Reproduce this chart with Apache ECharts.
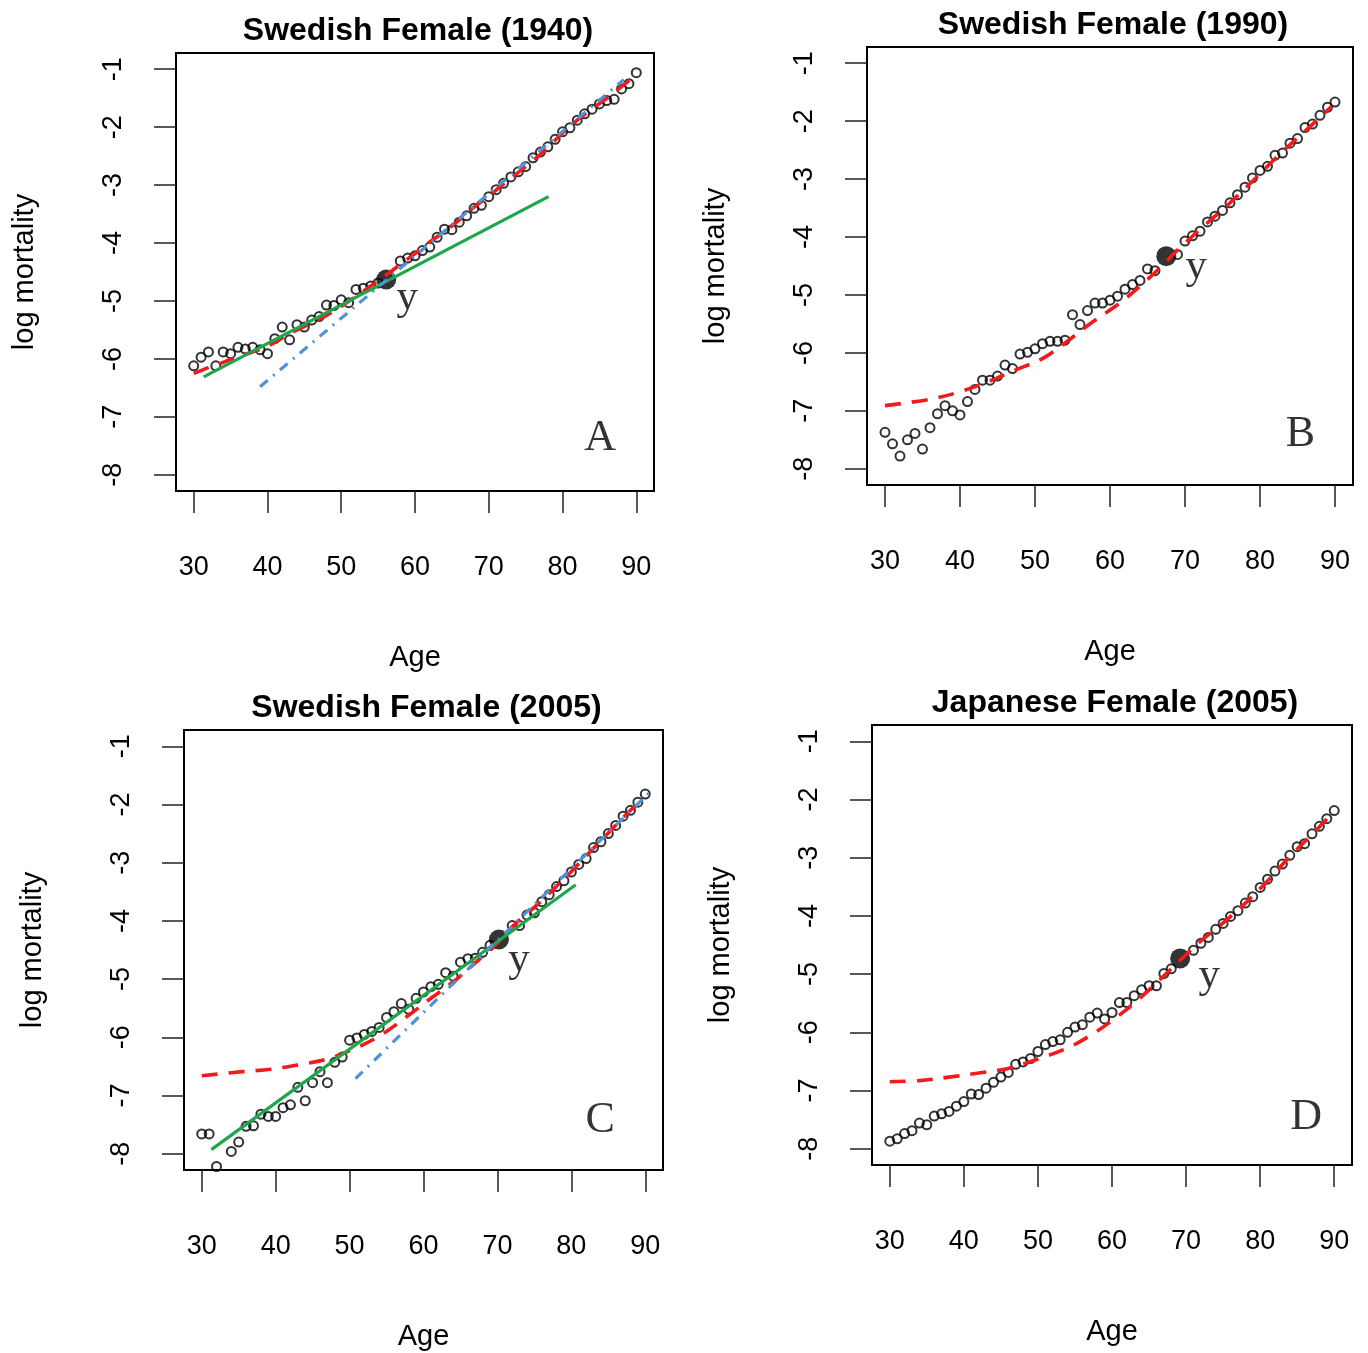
<!DOCTYPE html>
<html>
<head>
<meta charset="utf-8">
<script src="https://cdn.jsdelivr.net/npm/echarts@6/dist/echarts.min.js"></script>
<style>
html,body{margin:0;padding:0;background:#fff;}
#c{width:1368px;height:1353px;}
</style>
</head>
<body>
<div id="c"></div>
<script>
// ---------- DATA ----------
const ages = [30,31,32,33,34,35,36,37,38,39,40,41,42,43,44,45,46,47,48,49,50,51,52,53,54,55,56,57,58,59,60,61,62,63,64,65,66,67,68,69,70,71,72,73,74,75,76,77,78,79,80,81,82,83,84,85,86,87,88,89,90];
const xTicks = [30,40,50,60,70,80,90];
const yTicks = [-8,-7,-6,-5,-4,-3,-2,-1];
const titles = ["Swedish Female (1940)","Swedish Female (1990)","Swedish Female (2005)","Japanese Female (2005)"];
const letters = ["A","B","C","D"];

// observed log mortality, panel A (Swedish female 1940)
const obsA = [-6.12,-5.97,-5.88,-6.12,-5.88,-5.91,-5.80,-5.83,-5.80,-5.84,-5.91,-5.65,-5.45,-5.67,-5.41,-5.45,-5.33,-5.27,-5.07,-5.08,-4.98,-5.03,-4.80,-4.78,-4.74,-4.69,null,null,-4.31,-4.26,-4.22,-4.13,-4.07,-3.90,-3.76,-3.77,-3.64,-3.53,-3.40,-3.35,-3.20,-3.08,-2.97,-2.86,-2.77,-2.68,-2.53,-2.43,-2.34,-2.21,-2.08,-2.01,-1.88,-1.77,-1.69,-1.60,-1.54,-1.52,-1.34,-1.25,-1.06];
// panel B (Swedish female 1990)
const obsB = [-7.37,-7.57,-7.78,-7.50,-7.39,-7.66,-7.29,-7.05,-6.91,-7.00,-7.07,-6.84,-6.63,-6.47,-6.47,-6.40,-6.21,-6.27,-6.02,-5.99,-5.93,-5.84,-5.80,-5.80,-5.78,-5.34,-5.51,-5.27,-5.14,-5.14,-5.09,-5.02,-4.90,-4.82,-4.75,-4.55,-4.58,null,null,-4.30,-4.07,-3.98,-3.90,-3.74,-3.64,-3.54,-3.41,-3.27,-3.14,-2.98,-2.85,-2.78,-2.59,-2.55,-2.38,-2.30,-2.11,-2.05,-1.90,-1.76,-1.67];
// panel C (Swedish female 2005)
const obsC = [-7.66,-7.66,-8.22,null,-7.96,-7.80,-7.53,-7.52,-7.32,-7.36,-7.36,-7.21,-7.16,-6.86,-7.09,-6.78,-6.59,-6.78,-6.43,-6.34,-6.05,-6.01,-5.95,-5.90,-5.83,-5.66,-5.56,-5.42,-5.52,-5.33,-5.22,-5.13,-5.09,-4.89,-4.95,-4.71,-4.65,-4.64,-4.54,-4.42,null,null,-4.08,-4.08,-3.90,-3.86,-3.67,-3.55,-3.41,-3.31,-3.16,-3.03,-2.93,-2.74,-2.64,-2.50,-2.36,-2.20,-2.10,-1.96,-1.82];
// panel D (Japanese female 2005)
const obsD = [-7.87,-7.83,-7.74,-7.69,-7.56,-7.59,-7.44,-7.40,-7.36,-7.27,-7.19,-7.06,-7.07,-6.96,-6.86,-6.77,-6.69,-6.55,-6.51,-6.45,-6.33,-6.21,-6.16,-6.13,-6.00,-5.91,-5.87,-5.74,-5.67,-5.77,-5.66,-5.49,-5.49,-5.37,-5.27,-5.20,-5.20,-4.99,-4.91,null,null,-4.59,-4.47,-4.37,-4.23,-4.13,-4.01,-3.91,-3.78,-3.67,-3.51,-3.37,-3.23,-3.11,-2.96,-2.81,-2.76,-2.59,-2.46,-2.33,-2.19];

// fitted curves (red dashed)
const redAgeA = [30,32,34,36,38,40,42,44,46,48,50,52,54,56,58,60,62,64,66,68,70,72,74,76,78,80,82,84,86,88,89.5];
const redValA = [-6.25,-6.15,-6.06,-5.96,-5.88,-5.78,-5.64,-5.50,-5.38,-5.25,-5.09,-4.92,-4.74,-4.56,-4.37,-4.18,-3.98,-3.80,-3.60,-3.38,-3.19,-2.98,-2.78,-2.58,-2.35,-2.10,-1.88,-1.68,-1.50,-1.30,-1.15];
const redAgeB = [30,36,39.5,43.5,47.1,51.1,54.4,57.3,61.3,63.9,66.6,69.2,72.6,75.5,78.1,82.8,85.7,89.6];
const redValB = [-6.91,-6.80,-6.69,-6.51,-6.31,-6.09,-5.79,-5.50,-5.14,-4.86,-4.54,-4.20,-3.80,-3.47,-3.15,-2.55,-2.21,-1.74];
const redAgeC = [30,35.5,39.3,43.2,46.8,50.4,54,58,61,64,67,70,72,76,80,84,88,89.5];
const redValC = [-6.66,-6.59,-6.55,-6.47,-6.38,-6.21,-5.98,-5.62,-5.33,-5.05,-4.72,-4.38,-4.10,-3.65,-3.15,-2.62,-2.10,-1.93];
const redAgeD = [30,34,38,42,46,50,54,57,60,63,66,69.3,72,75,78,81,84,87,89.5];
const redValD = [-6.85,-6.83,-6.77,-6.70,-6.62,-6.46,-6.27,-6.06,-5.80,-5.50,-5.15,-4.75,-4.43,-4.12,-3.78,-3.40,-2.98,-2.60,-2.27];

// straight fits (green solid, blue dash-dot): [age, value] end points
const greenA = [[31.35,-6.31],[78.1,-3.20]];
const blueA  = [[39.0,-6.48],[88.3,-1.18]];
const greenC = [[31.3,-7.93],[80.6,-3.38]];
const blueC  = [[50.8,-6.71],[91.1,-1.73]];

// highlighted point y: [age, value]
const yPoints = [[56.1,-4.63],[67.5,-4.33],[70.2,-4.32],[69.2,-4.73]];
// panel letter anchor [age, value]
const letterAt = [[85.1,-7.37],[85.4,-7.40],[83.9,-7.43],[86.2,-7.46]];

// ---------- LAYOUT / STYLE ----------
const grids = [
  {left:176, top:53,  width:478, height:438},
  {left:867, top:47,  width:486, height:438},
  {left:184, top:730, width:479, height:440},
  {left:872, top:725, width:480, height:440}
];
const titleTops = [10, 4, 687, 682];
const yLabelOffsets = [[21,18],[30,11],[20,20],[29,17]];

const SANS = "'Liberation Sans', Arial, sans-serif";
const SERIF = "'Liberation Serif', 'Times New Roman', serif";
const RED = '#f21a1a', GREEN = '#1ea64b', BLUE = '#4e93da';

function pairs(xs, ys){
  const out = [];
  for (let i=0;i<xs.length;i++){ if (ys[i] !== null) out.push([xs[i], ys[i]]); }
  return out;
}

const obs = [obsA, obsB, obsC, obsD];
const reds = [[redAgeA,redValA],[redAgeB,redValB],[redAgeC,redValC],[redAgeD,redValD]];
const greens = [greenA, null, greenC, null];
const blues = [blueA, null, blueC, null];

const option = {
  animation: false,
  backgroundColor: '#fff',
  title: [], grid: [], xAxis: [], yAxis: [], series: []
};

for (let p=0;p<4;p++){
  const g = grids[p];
  option.grid.push({left:g.left, top:g.top, width:g.width, height:g.height, show:true,
    borderColor:'#000', borderWidth:2, backgroundColor:'rgba(0,0,0,0)', containLabel:false});
  option.title.push({text:titles[p], left:g.left + g.width/2 - 2, top:titleTops[p], textAlign:'center',
    textStyle:{fontFamily:SANS, fontSize:32, fontWeight:'bold', color:'#000'}});
  option.xAxis.push({gridIndex:p, type:'value', min:27.6, max:92.4,
    axisLine:{show:false, onZero:false}, splitLine:{show:false},
    axisTick:{show:true, length:22, customValues:xTicks, lineStyle:{color:'#222', width:1.5}},
    axisLabel:{show:true, customValues:xTicks, fontFamily:SANS, fontSize:27, color:'#000', margin:63},
    name:'Age', nameLocation:'middle', nameGap:152,
    nameTextStyle:{fontFamily:SANS, fontSize:29, color:'#000'}});
  option.yAxis.push({gridIndex:p, type:'value', min:-8.28, max:-0.72,
    axisLine:{show:false, onZero:false}, splitLine:{show:false},
    axisTick:{show:true, length:22, customValues:yTicks, lineStyle:{color:'#222', width:1.5}},
    axisLabel:{show:true, customValues:yTicks, rotate:90, fontFamily:SANS, fontSize:27, color:'#000', margin:49},
    name:'log mortality', nameLocation:'middle', nameGap:137,
    nameTextStyle:{fontFamily:SANS, fontSize:29, color:'#000'}});

  // observed points
  option.series.push({type:'scatter', xAxisIndex:p, yAxisIndex:p, silent:true, z:2,
    symbol:'circle', symbolSize:9, data:pairs(ages, obs[p]),
    itemStyle:{color:'rgba(0,0,0,0)', borderColor:'#000', borderWidth:2}});
  // highlighted y point
  option.series.push({type:'scatter', xAxisIndex:p, yAxisIndex:p, silent:true, z:3,
    symbol:'circle', symbolSize:20, data:[yPoints[p]],
    itemStyle:{color:'#000'},
    label:{show:true, formatter:'y', position:'inside', offset:yLabelOffsets[p],
      fontFamily:SERIF, fontSize:43, color:'#000'}});
  // red dashed fit
  option.series.push({type:'line', xAxisIndex:p, yAxisIndex:p, silent:true, z:4,
    showSymbol:false, smooth:0.35, data:pairs(reds[p][0], reds[p][1]),
    lineStyle:{color:RED, width:3.6, type:[16,11]}});
  if (greens[p]) option.series.push({type:'line', xAxisIndex:p, yAxisIndex:p, silent:true, z:5,
    showSymbol:false, data:greens[p], lineStyle:{color:GREEN, width:3.2}});
  if (blues[p]) option.series.push({type:'line', xAxisIndex:p, yAxisIndex:p, silent:true, z:6,
    showSymbol:false, data:blues[p], lineStyle:{color:BLUE, width:3.2, type:[10,7,2,7]}});
  // panel letter
  option.series.push({type:'scatter', xAxisIndex:p, yAxisIndex:p, silent:true, z:7,
    symbolSize:1, data:[letterAt[p]], itemStyle:{color:'rgba(0,0,0,0)'},
    label:{show:true, formatter:letters[p], position:'inside', fontFamily:SERIF, fontSize:44, color:'#000'}});
}

const chart = echarts.init(document.getElementById('c'), null, {renderer:'canvas', width:1368, height:1353});
chart.setOption(option);
</script>
</body>
</html>
